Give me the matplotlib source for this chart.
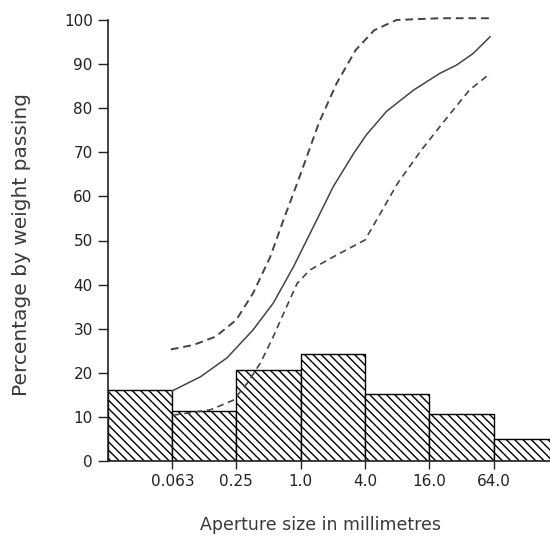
import matplotlib.pyplot as plt
import numpy as np

plt.rcParams['font.family'] = ['DejaVu Sans']
plt.rcParams['hatch.linewidth'] = 1.0

# histogram classes (mm) and percentage retained
bin_edges = [0.01575, 0.063, 0.25, 1.0, 4.0, 16.0, 64.0, 256.0]
bin_pct = [16.0, 11.3, 20.6, 24.3, 15.1, 10.7, 4.9]

# grading curves, aperture (mm) vs percentage passing
mid_size = [0.063, 0.1155, 0.205, 0.358, 0.555, 0.86, 1.31, 2.02, 3.15, 4.14,
            6.38, 11.4, 20.1, 28.9, 41.2, 59.4]
mid_pct = [15.9, 19.1, 23.4, 29.7, 35.8, 44.1, 53.0, 62.2, 69.8, 74.0,
           79.3, 84.1, 87.9, 89.8, 92.4, 96.2]

upper_size = [0.061, 0.099, 0.16, 0.25, 0.358, 0.52, 0.69, 0.98, 1.48, 2.17,
              3.28, 4.9, 7.9, 20.0, 59.6]
upper_pct = [25.3, 26.3, 28.2, 32.0, 38.0, 46.3, 54.6, 64.5, 76.6, 85.6,
             93.2, 97.7, 100.0, 100.4, 100.4]

lower_size = [0.064, 0.143, 0.235, 0.316, 0.42, 0.555, 0.74, 0.93, 1.22, 2.17,
              4.0, 5.6, 8.1, 13.5, 23.9, 38.0, 59.6]
lower_pct = [10.4, 11.6, 13.8, 17.6, 22.2, 28.2, 35.0, 40.3, 43.3, 46.7,
             50.1, 56.2, 63.0, 70.5, 78.1, 84.1, 87.9]

tick_pos = [0.063, 0.25, 1.0, 4.0, 16.0, 64.0]
tick_lab = ['0.063', '0.25', '1.0', '4.0', '16.0', '64.0']

fig = plt.figure(figsize=(5.5, 5.36), dpi=100)
ax = fig.add_axes([108 / 550, 75 / 536, 442 / 550, 441 / 536])

left = np.array(bin_edges[:-1])
width = np.array(bin_edges[1:]) - left
ax.bar(left, bin_pct, width=width, align='edge', facecolor='white',
       edgecolor='black', linewidth=1.0, hatch='\\\\\\\\', zorder=2)

ax.plot(mid_size, mid_pct, color='#444444', lw=1.1, zorder=3)
ax.plot(upper_size, upper_pct, color='#444444', lw=1.4, ls=(0, (4, 2.5)),
        zorder=3, clip_on=False)
ax.plot(lower_size, lower_pct, color='#444444', lw=1.2, ls=(0, (4, 2.8)), zorder=3)

ax.set_xscale('log')
ax.set_xlim(0.01575, 216)
ax.set_ylim(0, 100)
ax.set_xticks(tick_pos)
ax.set_xticklabels(tick_lab)
ax.minorticks_off()
ax.set_yticks(range(0, 101, 10))

for s in ['top', 'right']:
    ax.spines[s].set_visible(False)
for s in ['left', 'bottom']:
    ax.spines[s].set_linewidth(1.2)
    ax.spines[s].set_color('#222222')

ax.tick_params(axis='y', direction='out', length=7, width=1.0,
               labelsize=11, colors='#222222', pad=4)
ax.tick_params(axis='x', direction='out', length=5.5, width=1.0,
               labelsize=11, colors='#222222', pad=4)

ax.set_ylabel('Percentage by weight passing', fontsize=14.5, color='#3a3a3a',
              va='center')
ax.yaxis.set_label_coords(-0.196, 0.49)
ax.set_xlabel('Aperture size in millimetres', fontsize=12.5, color='#3a3a3a',
              va='center')
ax.xaxis.set_label_coords(0.48, -0.144)

fig.savefig('out.png', dpi=100)
